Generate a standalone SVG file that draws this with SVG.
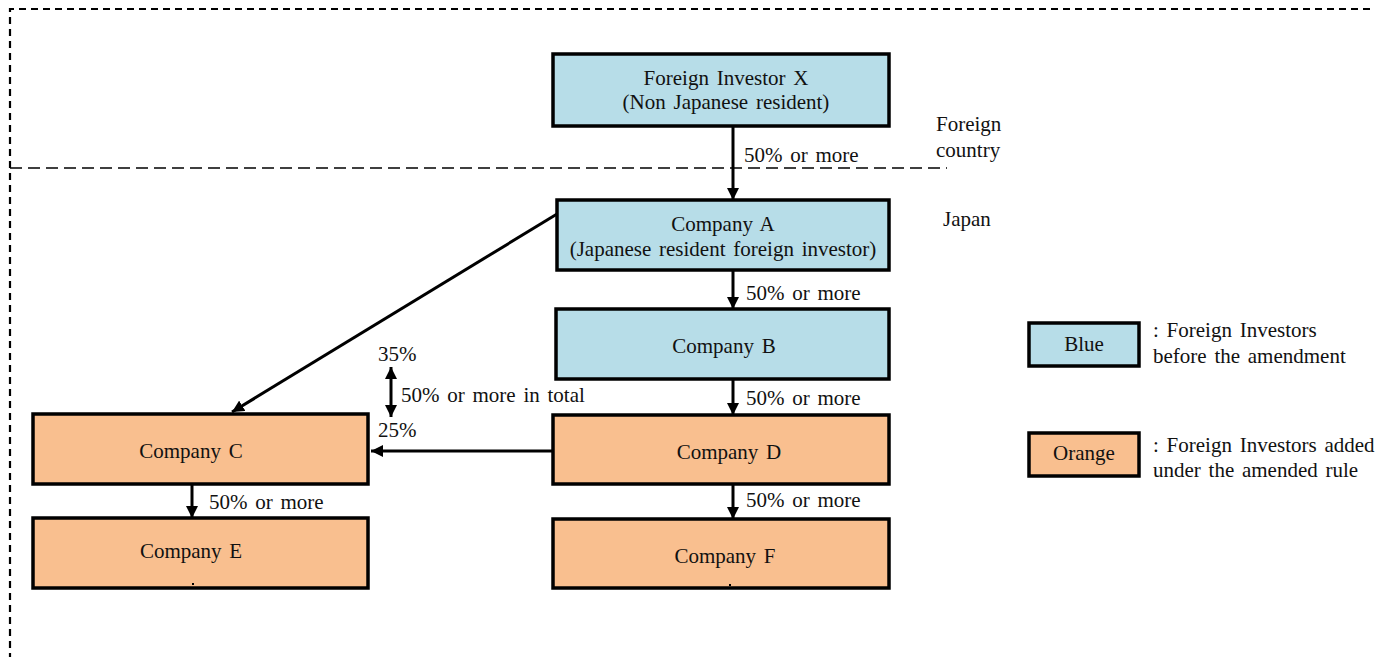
<svg xmlns="http://www.w3.org/2000/svg" width="1375" height="657" viewBox="0 0 1375 657">
<defs>
<style>
text{font-family:"Liberation Serif","Times New Roman",serif;font-size:21px;word-spacing:2.5px;fill:#111}
.c{text-anchor:middle}
.box{stroke:#000;stroke-width:3.5}
.blue{fill:#b7dde8}
.orange{fill:#f9bf8f}
.conn{stroke:#000;stroke-width:3;fill:none}
</style>
<marker id="ah" viewBox="0 0 10 10" refX="10" refY="5" markerWidth="4" markerHeight="4" orient="auto-start-reverse" markerUnits="strokeWidth">
<path d="M0,0 L10,5 L0,10 z" fill="#000"/>
</marker>
</defs>
<rect width="1375" height="657" fill="#fff"/>
<g id="frame">
<path d="M10,660 L10,9 L1380,9" fill="none" stroke="#000" stroke-width="2.2" stroke-dasharray="7,5"/>
<line x1="10" y1="168" x2="947" y2="168" stroke="#000" stroke-width="1.5" stroke-dasharray="12,6"/>
<text x="936" y="131">Foreign</text>
<text x="936" y="157">country</text>
<text x="943" y="226">Japan</text>
</g>
<g id="connectors">
<line class="conn" x1="733" y1="126" x2="733" y2="200" marker-end="url(#ah)"/>
<line class="conn" x1="733" y1="270" x2="733" y2="309" marker-end="url(#ah)"/>
<line class="conn" x1="733" y1="379" x2="733" y2="415" marker-end="url(#ah)"/>
<line class="conn" x1="733" y1="484" x2="733" y2="519" marker-end="url(#ah)"/>
<line class="conn" x1="192" y1="484" x2="192" y2="518" marker-end="url(#ah)"/>
<line class="conn" x1="557" y1="214" x2="232" y2="412" marker-end="url(#ah)"/>
<line class="conn" x1="553" y1="451" x2="371" y2="451" marker-end="url(#ah)"/>
<line class="conn" x1="391" y1="367" x2="391" y2="417" marker-start="url(#ah)" marker-end="url(#ah)"/>
<text x="744" y="162">50% or more</text>
<text x="746" y="300">50% or more</text>
<text x="746" y="405">50% or more</text>
<text x="746" y="507">50% or more</text>
<text x="209" y="509">50% or more</text>
<text x="378" y="361">35%</text>
<text x="378" y="437">25%</text>
<text x="401" y="402">50% or more in total</text>
</g>
<g id="investorX">
<rect class="box blue" x="553" y="54" width="336" height="72"/>
<text class="c" x="726" y="85">Foreign Investor X</text>
<text class="c" x="726" y="109">(Non Japanese resident)</text>
</g>
<g id="companyA">
<rect class="box blue" x="557" y="200" width="332" height="70"/>
<text class="c" x="723" y="231">Company A</text>
<text class="c" x="723" y="256">(Japanese resident foreign investor)</text>
</g>
<g id="companyB">
<rect class="box blue" x="556" y="309" width="333" height="70"/>
<text class="c" x="724" y="353">Company B</text>
</g>
<g id="companyD">
<rect class="box orange" x="553" y="415" width="336" height="69"/>
<text class="c" x="729" y="459">Company D</text>
</g>
<g id="companyF">
<rect class="box orange" x="553" y="519" width="336" height="69"/>
<text class="c" x="725" y="563">Company F</text>
<rect x="729" y="584" width="2" height="2" fill="#000"/>
</g>
<g id="companyC">
<rect class="box orange" x="33" y="414" width="335" height="70"/>
<text class="c" x="191" y="458">Company C</text>
</g>
<g id="companyE">
<rect class="box orange" x="33" y="518" width="335" height="70"/>
<text class="c" x="191" y="558">Company E</text>
<rect x="192" y="583" width="2" height="2" fill="#000"/>
</g>
<g id="legend">
<rect class="box blue" x="1029" y="323" width="110" height="43"/>
<text class="c" x="1084" y="351">Blue</text>
<text x="1153" y="337">: Foreign Investors</text>
<text x="1153" y="363">before the amendment</text>
<rect class="box orange" x="1029" y="433" width="110" height="43"/>
<text class="c" x="1084" y="460">Orange</text>
<text x="1153" y="452">: Foreign Investors added</text>
<text x="1153" y="477">under the amended rule</text>
</g>
</svg>
